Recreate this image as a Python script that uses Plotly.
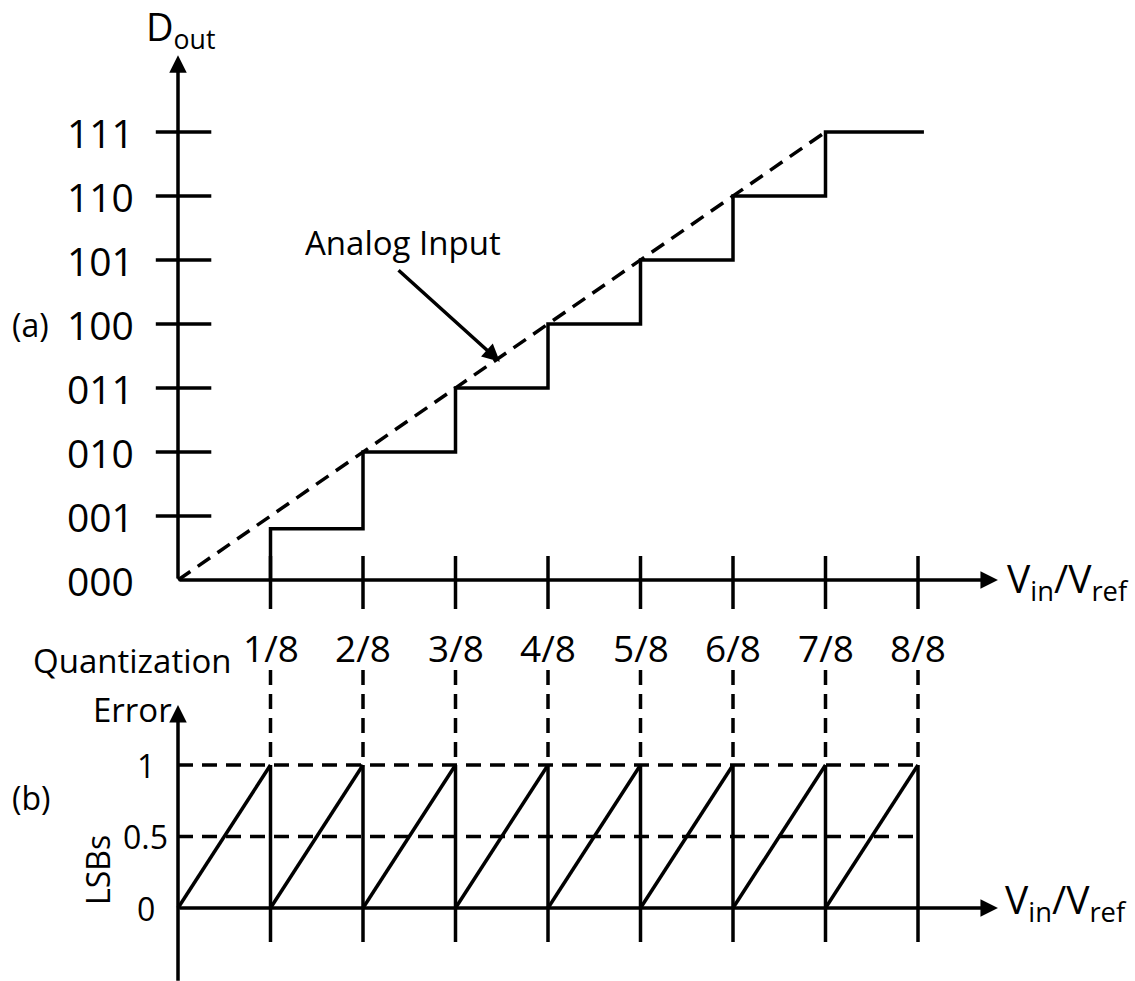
import plotly.graph_objects as go

# ---------------- data ----------------
code_labels = ["000", "001", "010", "011", "100", "101", "110", "111"]
code_vals = [0, 1, 2, 3, 4, 5, 6, 7]
x_tick_vals = [1/8, 2/8, 3/8, 4/8, 5/8, 6/8, 7/8, 8/8]
x_tick_labels = ["1/8", "2/8", "3/8", "4/8", "5/8", "6/8", "7/8", "8/8"]
# staircase (ADC output): step edges and levels
stair_edges = [1/8, 2/8, 3/8, 4/8, 5/8, 6/8, 7/8]
stair_levels = [0.8, 2, 3, 4, 5, 6, 7]
stair_end = 1.008
# analog input (dashed)
analog_x = [0, 7/8]
analog_y = [0, 7]
# quantization error sawtooth (LSBs)
ramp_start = [0, 1/8, 2/8, 3/8, 4/8, 5/8, 6/8, 7/8]
ramp_end = [1/8, 2/8, 3/8, 4/8, 5/8, 6/8, 7/8, 8/8]
err_tick_vals = [0, 0.5, 1]
err_tick_labels = ["0", "0.5", "1"]

# ---------------- style ----------------
FONT = "Open Sans"
BLK = "black"
LW = 3.5
DASH = "15px,9px"

fig = go.Figure()

def seg(xs, ys, yaxis="y", dash=None):
    fig.add_trace(go.Scatter(x=xs, y=ys, mode="lines", yaxis=yaxis,
                             line=dict(color=BLK, width=LW, dash=dash),
                             hoverinfo="skip", showlegend=False))

# ---- panel (a) ----
tx, ty = [], []
for v in code_vals[1:]:
    tx += [-0.030, 0.045, None]
    ty += [v, v, None]
seg(tx, ty)
tx, ty = [], []
for v in x_tick_vals:
    tx += [v, v, None]
    ty += [0.375, -0.453, None]
seg(tx, ty)
sx, sy = [], []
prev = 0
for e, lv in zip(stair_edges, stair_levels):
    sx += [e, e]
    sy += [prev, lv]
    prev = lv
sx += [stair_end]
sy += [prev]
seg(sx, sy)
seg(analog_x, analog_y, dash=DASH)

# ---- panel (b) ----
gx, gy = [], []
for v in x_tick_vals:
    gx += [v, v, None]
    gy += [1.664, 1, None]
seg(gx, gy, yaxis="y2", dash=DASH)
gx, gy = [], []
for v in x_tick_vals:
    gx += [v, v, None]
    gy += [1, -0.238, None]
seg(gx, gy, yaxis="y2")
hx, hy = [], []
for v in err_tick_vals[1:]:
    hx += [0, 1, None]
    hy += [v, v, None]
seg(hx, hy, yaxis="y2", dash=DASH)
rx, ry = [], []
for a, b in zip(ramp_start, ramp_end):
    rx += [a, b, None]
    ry += [0, 1, None]
seg(rx, ry, yaxis="y2")

ann = []
def arrow(x, y, ax, ay, yref="y", size=1.0):
    ann.append(dict(x=x, y=y, ax=ax, ay=ay, xref="x", yref=yref, axref="x", ayref=yref,
                    text="", showarrow=True, arrowhead=2, arrowsize=size,
                    arrowwidth=LW, arrowcolor=BLK))

def txt(t, x, y, size, xanchor="center", yref="y", angle=0):
    ann.append(dict(text=t, x=x, y=y, xref="x", yref=yref, xanchor=xanchor,
                    yanchor="middle", showarrow=False, textangle=angle,
                    font=dict(family=FONT, size=size, color=BLK)))

arrow(0, 8.2, 0, 0)
arrow(1.108, 0, 0, 0)
arrow(0, 1.42, 0, -0.52, yref="y2")
arrow(1.108, 0, 0, 0, yref="y2")
arrow(0.435, 3.41, 0.296, 4.86)

for lab, v in zip(code_labels, code_vals):
    txt(lab, -0.0568, v, 39, xanchor="right")
for lab, v in zip(x_tick_labels, x_tick_vals):
    txt(lab, v, -1.047, 37)
txt("D<sub>out</sub>", 0.004, 8.62, 38)
txt("V<sub>in</sub>/V<sub>ref</sub>", 1.1176, 0.0, 39, xanchor="left")
txt("(a)", -0.227, 4, 32, xanchor="left")
txt("Analog Input", 0.304, 5.27, 33)

err_label_x = [-0.0284, -0.0108, -0.0284]
for lab, v, lx in zip(err_tick_labels, err_tick_vals, err_label_x):
    txt(lab, lx, v, 32, xanchor="right", yref="y2")
txt("Quantization", -0.062, 1.734, 33, yref="y2")
txt("Error", -0.062, 1.385, 33, yref="y2")
txt("(b)", -0.227, 0.776, 32, xanchor="left", yref="y2")
txt("LSBs", -0.108, 0.266, 32, yref="y2", angle=-90)
txt("V<sub>in</sub>/V<sub>ref</sub>", 1.115, 0.05, 39, xanchor="left", yref="y2")

fig.update_layout(
    width=1135, height=981, autosize=False,
    margin=dict(l=0, r=0, t=0, b=0),
    paper_bgcolor="white", plot_bgcolor="white",
    xaxis=dict(range=[-178/740, (1135-178)/740], visible=False, fixedrange=True),
    yaxis=dict(range=[(580-981)/64, 580/64], visible=False, fixedrange=True),
    yaxis2=dict(range=[(908-981)/143, 908/143], visible=False, overlaying="y",
                fixedrange=True),
    annotations=ann,
    showlegend=False,
)

fig.write_html("out.html", config={"displayModeBar": False},
               post_script="document.body.style.margin='0';document.body.style.overflow='hidden';")
